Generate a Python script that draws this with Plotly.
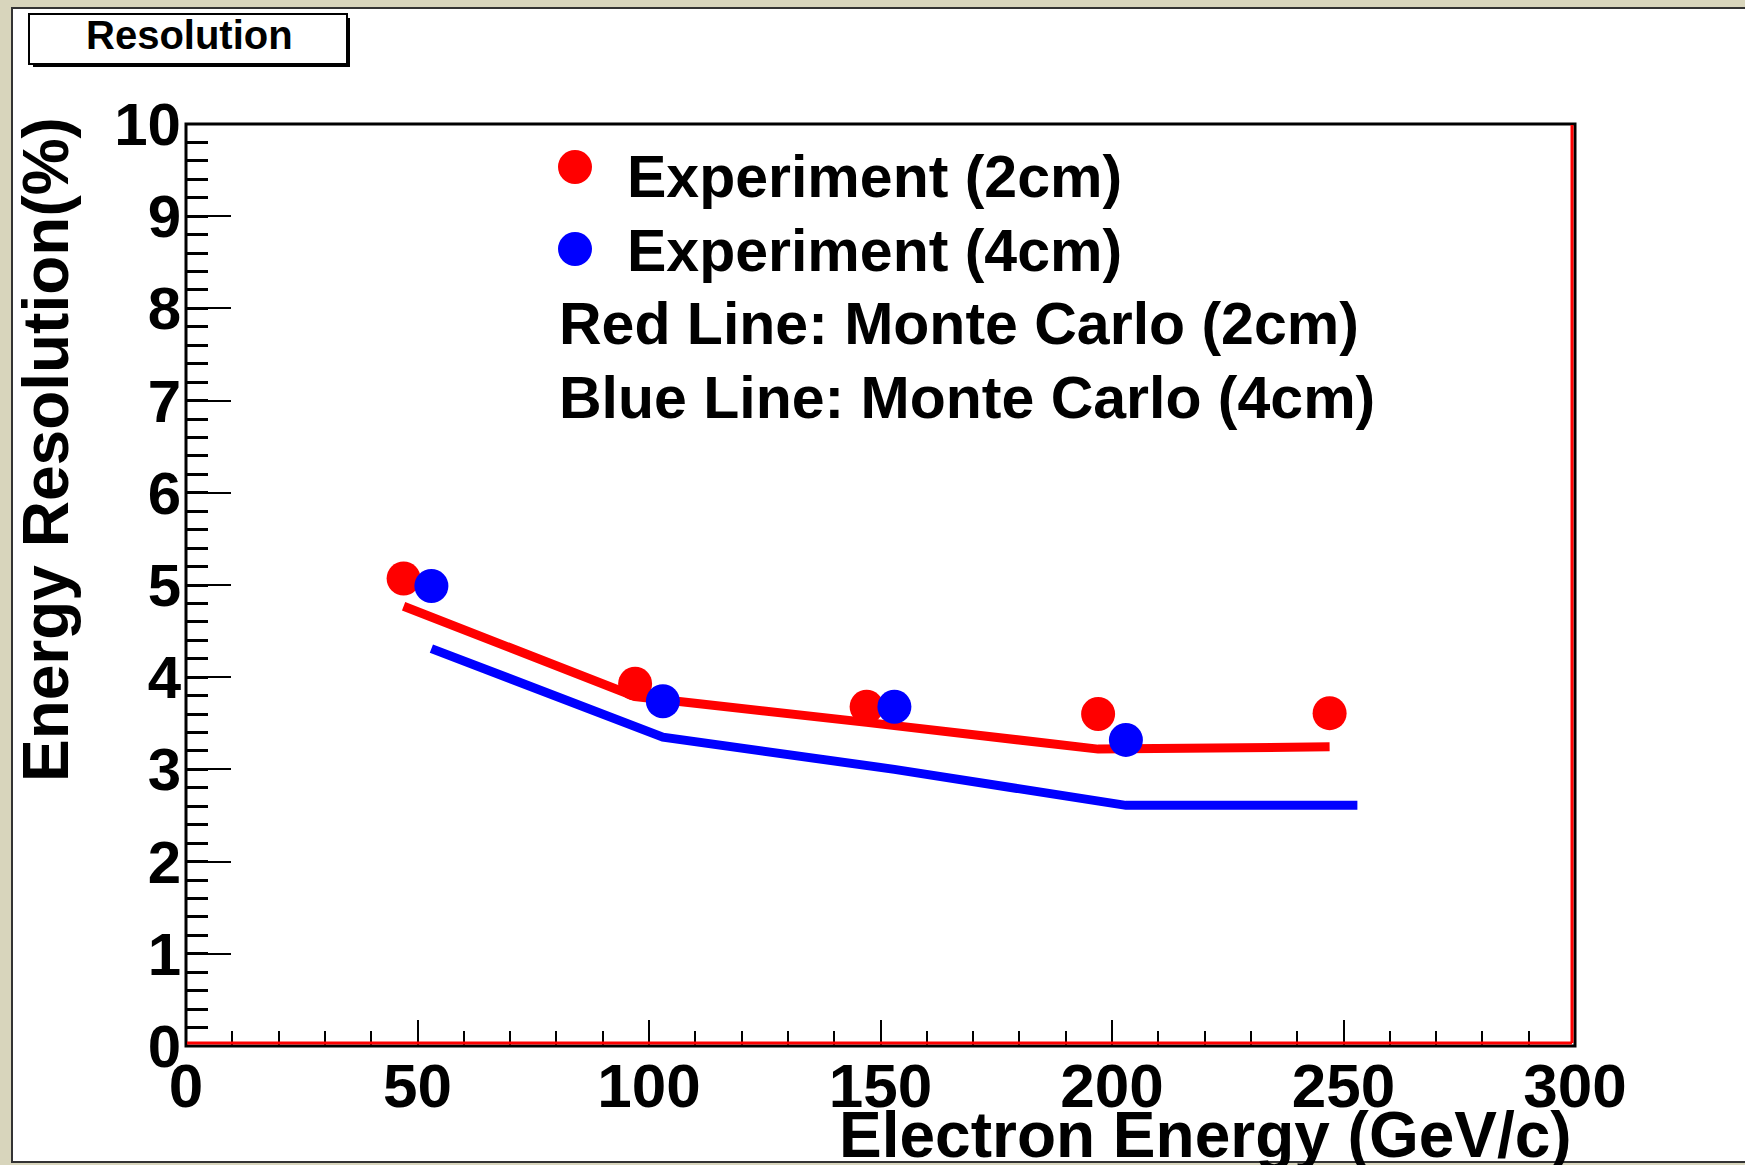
import plotly.graph_objects as go

# Beam energies (GeV/c) and measured energy resolution (%)
energy_2cm = [47, 97, 147, 197, 247]
res_exp_2cm = [5.07, 3.93, 3.68, 3.60, 3.61]
energy_4cm = [53, 103, 153, 203]
res_exp_4cm = [4.99, 3.74, 3.68, 3.32]

# Monte Carlo expectations
mc_energy_2cm = [47, 97, 147, 197, 247]
res_mc_2cm = [4.77, 3.79, 3.51, 3.22, 3.245]
mc_energy_4cm = [53, 103, 153, 203, 253]
res_mc_4cm = [4.31, 3.35, 3.00, 2.61, 2.61]

x_ticks = [0, 50, 100, 150, 200, 250, 300]
y_ticks = list(range(0, 11))

legend_entries = ["Experiment (2cm)", "Experiment (4cm)",
                  "Red Line: Monte Carlo (2cm)", "Blue Line: Monte Carlo (4cm)"]

W, H = 1745, 1165
RED = "#ff0000"
BLUE = "#0000ff"
FONT = "Liberation Sans, Arial, Helvetica, sans-serif"


def px(x):
    return x / W


def py(y):
    return 1 - y / H


fig = go.Figure()

fig.add_trace(go.Scatter(x=mc_energy_4cm, y=res_mc_4cm, mode="lines",
                         line=dict(color=BLUE, width=9), showlegend=False))
fig.add_trace(go.Scatter(x=mc_energy_2cm, y=res_mc_2cm, mode="lines",
                         line=dict(color=RED, width=9), showlegend=False))
fig.add_trace(go.Scatter(x=energy_2cm, y=res_exp_2cm, mode="markers",
                         marker=dict(color=RED, size=34, line=dict(width=0)),
                         showlegend=False))
fig.add_trace(go.Scatter(x=energy_4cm, y=res_exp_4cm, mode="markers",
                         marker=dict(color=BLUE, size=34, line=dict(width=0)),
                         showlegend=False))

L, R, T, B = 186, 1575, 124, 1046

shapes = [
    # canvas
    dict(type="rect", xref="paper", yref="paper", layer="below",
         x0=px(12), x1=px(1760), y0=py(1162), y1=py(8),
         fillcolor="white", line=dict(color="#333333", width=2)),
    # title box shadow and box
    dict(type="rect", xref="paper", yref="paper",
         x0=px(33), x1=px(350), y0=py(67), y1=py(18),
         fillcolor="black", line=dict(width=0)),
    dict(type="rect", xref="paper", yref="paper",
         x0=px(29), x1=px(347), y0=py(64), y1=py(14),
         fillcolor="white", line=dict(color="black", width=2)),
    # frame
    dict(type="rect", xref="paper", yref="paper",
         x0=px(L), x1=px(R), y0=py(B), y1=py(T),
         line=dict(color="black", width=3)),
    dict(type="line", xref="paper", yref="paper",
         x0=px(L + 1), x1=px(R - 3), y0=py(B - 3), y1=py(B - 3),
         line=dict(color=RED, width=3)),
    dict(type="line", xref="paper", yref="paper",
         x0=px(R - 3), x1=px(R - 3), y0=py(B - 3), y1=py(T + 1),
         line=dict(color=RED, width=3)),
]

# legend keys
for col, yc in ((RED, 167), (BLUE, 249)):
    shapes.append(dict(type="circle", xref="paper", yref="paper",
                       xsizemode="pixel", ysizemode="pixel",
                       xanchor=px(575), yanchor=py(yc),
                       x0=-17, x1=17, y0=-17, y1=17,
                       fillcolor=col, line=dict(width=0)))

annotations = [
    dict(text="Resolution", x=px(189), y=py(35), xref="paper", yref="paper",
         xanchor="center", yanchor="middle", showarrow=False,
         font=dict(family=FONT, size=40, color="black", weight="bold")),
    dict(text="Energy Resolution(%)", x=px(46), y=py(450), xref="paper", yref="paper",
         xanchor="center", yanchor="middle", showarrow=False, textangle=-90,
         font=dict(family=FONT, size=64, color="black", weight="bold")),
    dict(text="Electron Energy (GeV/c)", x=px(1574), y=py(1135), xref="paper", yref="paper",
         xanchor="right", yanchor="middle", showarrow=False,
         font=dict(family=FONT, size=64, color="black", weight="bold")),
]

legend_pos = [(625, 177), (625, 251), (557, 324), (557, 398)]
for txt, (lx, ly) in zip(legend_entries, legend_pos):
    annotations.append(dict(text=txt, x=px(lx), y=py(ly), xref="paper", yref="paper",
                            xanchor="left", yanchor="middle", showarrow=False,
                            font=dict(family=FONT, size=59, color="black", weight="bold")))

fig.update_layout(
    template="none",
    width=W, height=H, autosize=False,
    margin=dict(l=0, r=0, t=0, b=0, pad=0, autoexpand=False),
    paper_bgcolor="#d8d5bc", plot_bgcolor="white",
    showlegend=False,
    shapes=shapes, annotations=annotations,
    xaxis=dict(domain=[px(L), px(R)], range=[0, 300], tickmode="array",
               tickvals=x_ticks, ticktext=[str(v) for v in x_ticks],
               ticks="inside", ticklen=26, tickwidth=2, tickcolor="black",
               minor=dict(dtick=10, ticks="inside", ticklen=15, tickwidth=2,
                          tickcolor="black", showgrid=False),
               showgrid=False, zeroline=False, showline=False, automargin=False,
               ticklabelstandoff=-2,
               tickfont=dict(family=FONT, size=62, color="black", weight="bold")),
    yaxis=dict(domain=[py(B), py(T)], range=[0, 10], tickmode="array",
               tickvals=y_ticks, ticktext=[str(v) for v in y_ticks],
               ticks="inside", ticklen=45, tickwidth=2, tickcolor="black",
               minor=dict(dtick=0.2, ticks="inside", ticklen=22, tickwidth=3,
                          tickcolor="black", showgrid=False),
               showgrid=False, zeroline=False, showline=False, automargin=False,
               ticklabelstandoff=4,
               tickfont=dict(family=FONT, size=60, color="black", weight="bold")),
)

fig.write_html("out.html")
